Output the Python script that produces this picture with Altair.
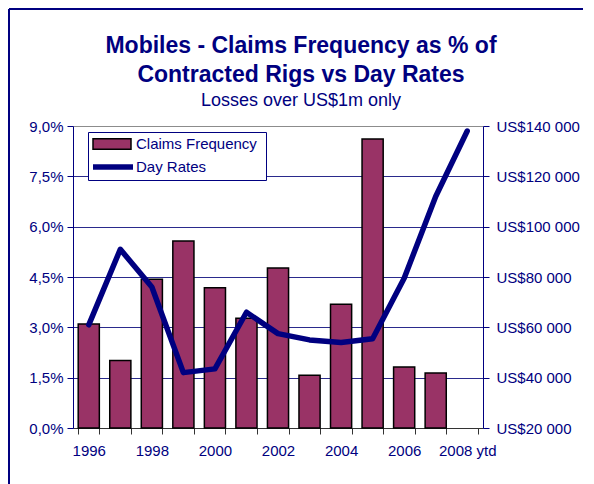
import altair as alt
import pandas as pd

years = [1996, 1997, 1998, 1999, 2000, 2001, 2002, 2003, 2004, 2005, 2006, 2007, 2008]
claims_freq = [3.10, 2.01, 4.43, 5.57, 4.18, 3.27, 4.77, 1.57, 3.69, 8.61, 1.82, 1.64, None]
day_rates = [61000, 91000, 76000, 42000, 43500, 66000, 57500, 55000, 54000, 55500, 79500, 112000, 138000]
pct_ticks = [0, 1.5, 3.0, 4.5, 6.0, 7.5, 9.0]
usd_ticks = [20000, 40000, 60000, 80000, 100000, 120000, 140000]

NAVY = "#000080"
FONT = "Liberation Sans"

df = pd.DataFrame({
    "year": years,
    "freq": claims_freq,
    "rate": day_rates,
    "s1": ["Claims Frequency"] * len(years),
    "s2": ["Day Rates"] * len(years),
})

W, H = 410, 302

x_enc = alt.X(
    "year:O",
    title=None,
    scale=alt.Scale(paddingInner=0.33, paddingOuter=0.165),
    axis=alt.Axis(
        labelAngle=0,
        tickBand="extent",
        labelExpr="datum.value % 2 == 0 ? (datum.value == 2008 ? '2008 ytd' : datum.value + '') : ''",
        domainColor="#333333",
        tickColor="#333333",
        tickSize=6,
        labelPadding=9,
        labelColor=NAVY,
        labelFontSize=15,
        labelFont=FONT,
        grid=False,
    ),
)

bars = alt.Chart(df).mark_bar(stroke="black", strokeWidth=1.5).encode(
    x=x_enc,
    y=alt.Y(
        "freq:Q",
        title=None,
        scale=alt.Scale(domain=[0, 9], nice=False, zero=True),
        axis=alt.Axis(
            values=pct_ticks,
            labelExpr="replace(format(datum.value, '.1f'), '.', ',') + '%'",
            domainColor=NAVY,
            tickColor=NAVY,
            tickSize=6,
            labelPadding=4,
            labelColor=NAVY,
            labelFontSize=15,
            labelFont=FONT,
            grid=True,
            gridColor=alt.condition("datum.value == 9", alt.value("#8c8c8c"), alt.value("#2a2a8c")),
            gridWidth=1,
        ),
    ),
    fill=alt.Fill(
        "s1:N",
        scale=alt.Scale(domain=["Claims Frequency"], range=["#993366"]),
        legend=alt.Legend(
            title=None,
            orient="none",
            legendX=19,
            legendY=-2,
            symbolType="M-1,-0.28H1V0.28H-1Z",
            symbolSize=1444,
            symbolStrokeColor="black",
            symbolStrokeWidth=1.5,
            symbolOpacity=1,
            labelFontSize=15,
            labelFont=FONT,
            labelColor=NAVY,
            labelOffset=4,
            padding=0,
        ),
    ),
)

line = alt.Chart(df).mark_line(strokeWidth=5.5, strokeCap="round", strokeJoin="round").encode(
    x=x_enc,
    y=alt.Y(
        "rate:Q",
        title=None,
        scale=alt.Scale(domain=[20000, 140000], nice=False, zero=False),
        axis=alt.Axis(
            orient="right",
            values=usd_ticks,
            labelExpr="'US$' + replace(format(datum.value, ',.0f'), ',', ' ')",
            domainColor=NAVY,
            tickColor=NAVY,
            tickSize=6,
            labelPadding=7,
            labelColor=NAVY,
            labelFontSize=15,
            labelFont=FONT,
            grid=False,
        ),
    ),
    stroke=alt.Stroke(
        "s2:N",
        scale=alt.Scale(domain=["Day Rates"], range=[NAVY]),
        legend=alt.Legend(
            title=None,
            orient="none",
            legendX=17,
            legendY=18,
            symbolType="stroke",
            symbolSize=1600,
            symbolStrokeWidth=5.5,
            labelFontSize=15,
            labelFont=FONT,
            labelColor=NAVY,
            labelOffset=0,
            padding=0,
        ),
    ),
)

one = pd.DataFrame({"k": [0]})

legend_box = alt.Chart(one).mark_rect(fill="white", stroke=NAVY, strokeWidth=1).encode(
    x=alt.value(15.5), x2=alt.value(193.5), y=alt.value(6.5), y2=alt.value(54.5)
)

frame_left = alt.Chart(one).mark_rule(color=NAVY, strokeWidth=2).encode(
    x=alt.value(-64), y=alt.value(-117), y2=alt.value(358)
)
frame_top = alt.Chart(one).mark_rule(color=NAVY, strokeWidth=2).encode(
    x=alt.value(-64), x2=alt.value(510), y=alt.value(-117)
)

chart = alt.layer(legend_box, bars, line, frame_left, frame_top).resolve_scale(
    y="independent"
).properties(
    width=W,
    height=H,
    autosize=alt.AutoSizeParams(type="none"),
    padding={"left": 65, "top": 118, "right": 100, "bottom": 56},
    title=alt.TitleParams(
        text=["Mobiles - Claims Frequency as % of", "Contracted Rigs vs Day Rates"],
        subtitle="Losses over US$1m only",
        font=FONT,
        fontSize=23,
        fontWeight="bold",
        color=NAVY,
        lineHeight=29,
        subtitleFont=FONT,
        subtitleFontSize=18,
        subtitleColor=NAVY,
        subtitlePadding=5,
        anchor="middle",
        dx=23,
        offset=-102,
    ),
).configure_view(stroke=None)

chart.save("out.html", embed_options={"renderer": "svg", "actions": False})
